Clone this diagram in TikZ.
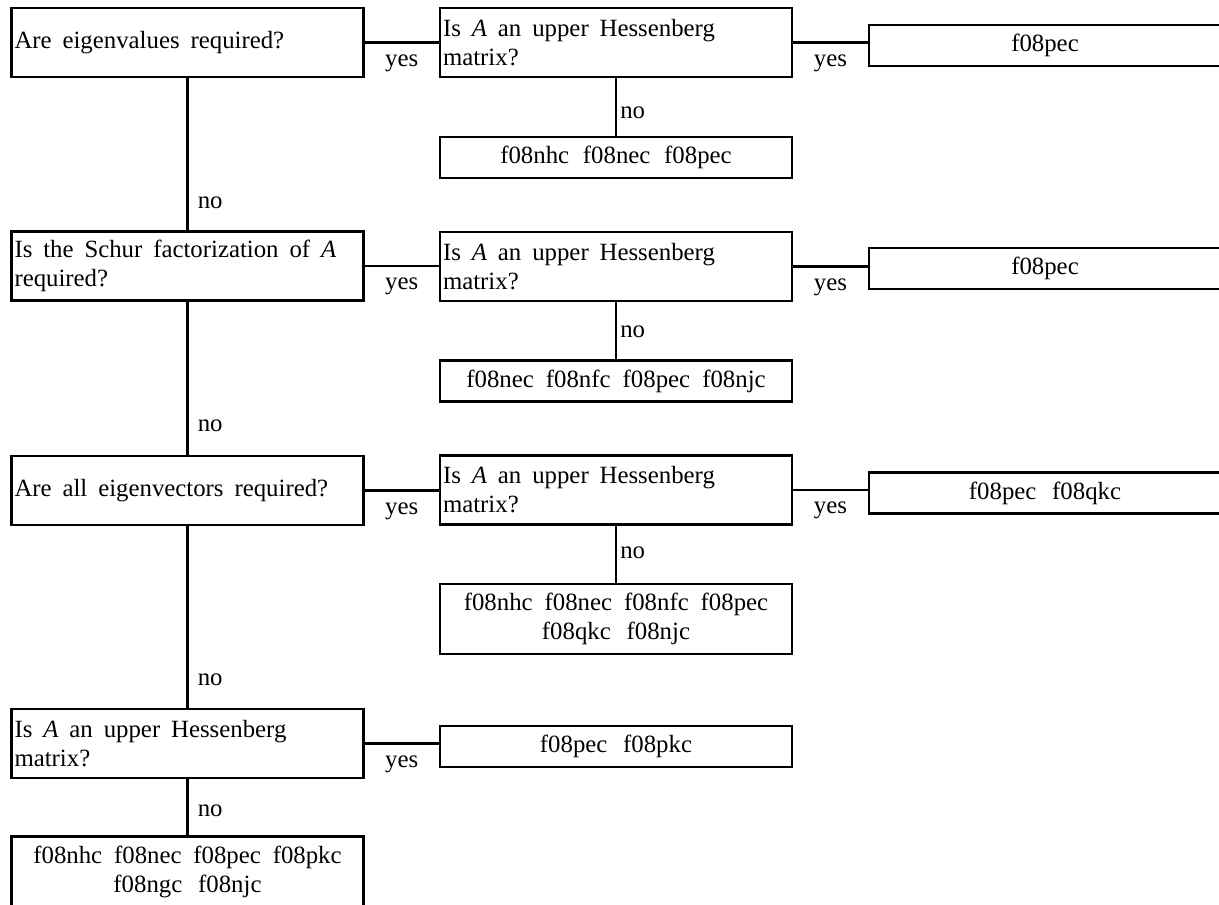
\documentclass[tikz,border=0pt]{standalone}
\usepackage{fontspec}
\setmainfont{Liberation Serif}
\newcommand{\chartfont}{\fontsize{12.4}{14.5}\selectfont}
\begin{document}
\begin{tikzpicture}[x=0.5pt, y=-0.5pt,
    box/.style={draw, line width=1.3pt, inner sep=1.5pt, text width=173pt, font=\chartfont,
        execute at begin node={\spaceskip=0.44em plus 0.1em minus 0.05em\relax}},
    ques/.style={box, align=left, minimum height=34.5pt},
    res/.style={box, align=center, minimum height=20.5pt},
    lbl/.style={inner sep=0pt, font=\chartfont},
    link/.style={line width=1.3pt}]

    \useasboundingbox (0,0) rectangle (1219,904);

    % first question
    \node[ques] (Q1) at (187.5,42.5) {Are eigenvalues required?};
    \node[ques] (H1) at (616,42.5) {Is \textit{A} an upper Hessenberg\\matrix?};
    \node[res] (R1) at (1045,45.5) {f08pec};
    \node[res] (N1) at (616,157.5) {f08nhc f08nec f08pec};

    % second question
    \node[ques] (Q2) at (187.5,266) {Is the Schur factorization of \textit{A}\\required?};
    \node[ques] (H2) at (616,266.5) {Is \textit{A} an upper Hessenberg\\matrix?};
    \node[res] (R2) at (1045,268.5) {f08pec};
    \node[res] (N2) at (616,381) {f08nec f08nfc f08pec f08njc};

    % third question
    \node[ques] (Q3) at (187.5,490.5) {Are all eigenvectors required?};
    \node[ques] (H3) at (616,490) {Is \textit{A} an upper Hessenberg\\matrix?};
    \node[res] (R3) at (1045,493) {f08pec f08qkc};
    \node[res, minimum height=35pt] (N3) at (616,619) {f08nhc f08nec f08nfc f08pec\\f08qkc f08njc};

    % fourth question
    \node[ques] (Q4) at (187.5,743.5) {Is \textit{A} an upper Hessenberg\\matrix?};
    \node[res] (R4) at (616,746.5) {f08pec f08pkc};
    \node[res, minimum height=35pt] (N4) at (187.5,871.5) {f08nhc f08nec f08pec f08pkc\\f08ngc f08njc};

    \draw[link] (Q1.east) -- node[lbl, midway, below=5.5pt] {yes} (Q1.east -| H1.west);
    \draw[link] (H1.east) -- node[lbl, midway, below=5.5pt] {yes} (H1.east -| R1.west);
    \draw[link] (H1) -- node[lbl, pos=0.6, right=1.5pt] {no} (N1);
    \draw[link] (Q1) -- node[lbl, pos=0.82, right=4.5pt] {no} (Q2);

    \draw[link] (Q2.east) -- node[lbl, midway, below=5.5pt] {yes} (Q2.east -| H2.west);
    \draw[link] (H2.east) -- node[lbl, midway, below=5.5pt] {yes} (H2.east -| R2.west);
    \draw[link] (H2) -- node[lbl, pos=0.52, right=1.5pt] {no} (N2);
    \draw[link] (Q2) -- node[lbl, pos=0.81, right=4.5pt] {no} (Q3);

    \draw[link] (Q3.east) -- node[lbl, midway, below=5.5pt] {yes} (Q3.east -| H3.west);
    \draw[link] (H3.east) -- node[lbl, midway, below=5.5pt] {yes} (H3.east -| R3.west);
    \draw[link] (H3) -- node[lbl, pos=0.48, right=1.5pt] {no} (N3);
    \draw[link] (Q3) -- node[lbl, pos=0.845, right=4.5pt] {no} (Q4);

    \draw[link] (Q4.east) -- node[lbl, midway, below=5.5pt] {yes} (Q4.east -| R4.west);
    \draw[link] (Q4) -- node[lbl, pos=0.57, right=4.5pt] {no} (N4);

\end{tikzpicture}
\end{document}
